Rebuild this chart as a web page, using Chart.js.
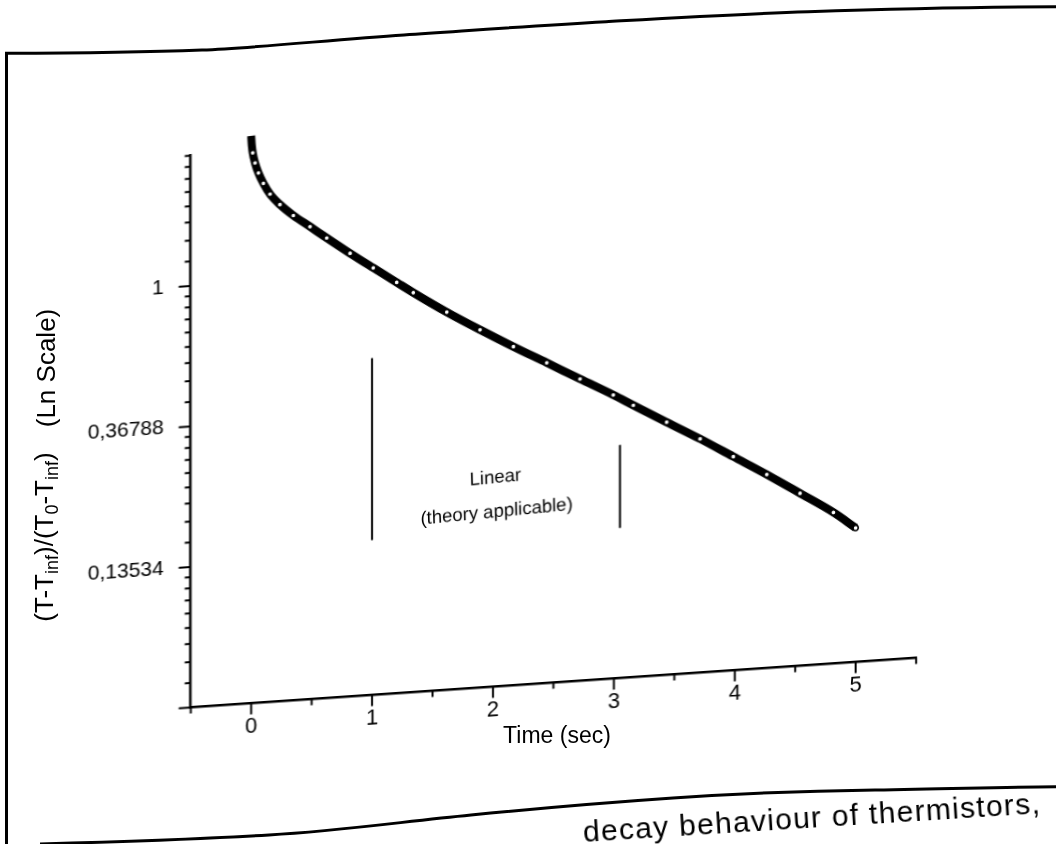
<!DOCTYPE html>
<html>
<head>
<meta charset="utf-8">
<script src="https://cdn.jsdelivr.net/npm/chart.js@4.4.1/dist/chart.umd.min.js"></script>
<style>
  html, body { margin:0; padding:0; background:#fff; width:1056px; height:844px; overflow:hidden; }
  body { position:relative; font-family:"Liberation Sans", Arial, sans-serif; color:#000; }
  /* the scanned page is slightly sheared: x axis rises to the right, y axis stays vertical */
  #plotWrap { position:absolute; left:0; top:0; width:1056px; height:844px;
              transform:skewY(-3.906deg); transform-origin:190.7px 0; }
  #frame { position:absolute; left:0; top:0; }
  .rot { position:absolute; white-space:nowrap; transform:translate(-50%,-50%) rotate(-90deg); font-size:26px; }
  .rot sub { font-size:18px; vertical-align:-5px; }
  #xTitle { position:absolute; left:557px; top:735px; transform:translate(-50%,-50%); font-size:23px; white-space:nowrap; }
  #caption { position:absolute; left:583px; top:815px; font-size:30px; letter-spacing:1.3px; white-space:nowrap;
             transform:rotate(-3.6deg); transform-origin:0 50%; }
</style>
</head>
<body>
<svg id="frame" width="1056" height="844">
  <path d="M6.5,844 L6.5,53.3 C100,53 150,52 202,50 S330,40 404,35 S530,26 606,21.7 S740,14 808,11.7 S980,7 1056,6.7"
        fill="none" stroke="#000" stroke-width="3"/>
  <path d="M40,844 C150,841 200,839 269,835 S400,822 471,815 S600,803 673,798 S800,791 875,790 S1000,787 1056,786.7"
        fill="none" stroke="#000" stroke-width="3"/>
</svg>
<div id="plotWrap"><canvas id="decayChart" width="1056" height="844"></canvas></div>
<div class="rot" style="left:46px; top:537px;">(T-T<sub>inf</sub>)/(T<sub>0</sub>-T<sub>inf</sub>)</div>
<div class="rot" style="left:46px; top:368px;">(Ln Scale)</div>
<div id="xTitle">Time (sec)</div>
<div id="caption">decay behaviour of thermistors,</div>

<script>
var timeSec = [0, 0.005, 0.013, 0.032, 0.06, 0.101, 0.156, 0.238, 0.349, 0.487,
               0.625, 0.818, 1.01, 1.204, 1.341, 1.618, 1.893, 2.169, 2.445, 2.72,
               2.995, 3.161, 3.437, 3.713, 3.988, 4.265, 4.54, 4.816, 5.0];
var tempRatio = [2.824, 2.648, 2.502, 2.326, 2.163, 2.004, 1.85, 1.709, 1.571, 1.439,
                 1.317, 1.168, 1.041, 0.928, 0.856, 0.733, 0.636, 0.555, 0.487, 0.427,
                 0.375, 0.345, 0.301, 0.263, 0.228, 0.1975, 0.170, 0.146, 0.1294];

// ln-scale axis: majors at e^0, e^-1, e^-2
var yMajors = [Math.exp(-3), Math.exp(-2), Math.exp(-1), 1, Math.E];
var yMajorLabels = ['', '0,13534', '0,36788', '1', ''];
var yMin = Math.exp(-3), yMax = Math.exp(0.932);
var xMajors = [0, 1, 2, 3, 4, 5];
var xMajorLabels = ['0', '1', '2', '3', '4', '5'];
var xMin = -0.5, xMax = 5.5;

// "Linear (theory applicable)" bracket
var bracketX = [1, 3.05];
var bracketTop = [0.548, 0.262];
var bracketBottom = [0.150, 0.145];
var noteText = ['Linear', '(theory applicable)'];
var noteX = [2.02, 2.03];
var noteY = [0.22, 0.1725];

Chart.defaults.font.family = '"Liberation Sans", Arial, sans-serif';
Chart.defaults.color = '#000';

function near(a, b) { return Math.abs(a - b) < 1e-6 * Math.max(1, Math.abs(b)); }

// Origin style minor ticks: 8 linearly spaced values between majors
function yTickValues() {
    var out = [];
    for (var i = 0; i < yMajors.length - 1; i++) {
        var lo = yMajors[i], hi = yMajors[i + 1];
        out.push({ value: lo, major: true });
        for (var k = 1; k < 9; k++) {
            var v = lo + k * (hi - lo) / 9;
            if (v <= yMax * 1.001) out.push({ value: v, major: false });
        }
    }
    return out;
}

function xTickValues() {
    var out = [];
    for (var v = xMin; v <= xMax + 1e-9; v += 0.5) {
        out.push({ value: v, major: Math.abs(v - Math.round(v)) < 1e-9 });
    }
    return out;
}

var tickPlugin = {
    id: 'originTicks',
    afterDraw: function (chart) {
        var ctx = chart.ctx, a = chart.chartArea, xs = chart.scales.x, ys = chart.scales.y;
        ctx.save();
        ctx.strokeStyle = '#000';
        ctx.lineWidth = 2;
        ys.ticks.forEach(function (t) {
            var y = ys.getPixelForValue(t.value);
            if (y < a.top - 1 || y > a.bottom + 1) return;
            var len = t.major ? 12 : 6;
            ctx.beginPath(); ctx.moveTo(a.left, y); ctx.lineTo(a.left - len, y); ctx.stroke();
        });
        xs.ticks.forEach(function (t) {
            var x = xs.getPixelForValue(t.value);
            var len = t.major ? 11 : 6;
            ctx.beginPath(); ctx.moveTo(x, a.bottom); ctx.lineTo(x, a.bottom + len); ctx.stroke();
        });
        ctx.restore();
    },
    afterDatasetsDraw: function (chart) {
        var ctx = chart.ctx, xs = chart.scales.x, ys = chart.scales.y;
        ctx.save();
        ctx.fillStyle = '#000';
        ctx.font = '18.5px "Liberation Sans", Arial, sans-serif';
        ctx.textAlign = 'center';
        ctx.textBaseline = 'middle';
        for (var i = 0; i < noteText.length; i++) {
            ctx.save();
            ctx.translate(xs.getPixelForValue(noteX[i]), ys.getPixelForValue(noteY[i]));
            ctx.rotate(-0.03);
            ctx.fillText(noteText[i], 0, 0);
            ctx.restore();
        }
        ctx.restore();
    }
};

var decayPoints = timeSec.map(function (t, i) { return { x: t, y: tempRatio[i] }; });

var datasets = [{
    data: decayPoints,
    borderColor: '#000',
    borderWidth: 8,
    cubicInterpolationMode: 'monotone',
    pointRadius: 2.6,
    pointBackgroundColor: '#fff',
    pointBorderColor: '#000',
    pointBorderWidth: 1.5,
    clip: false
}];
for (var b = 0; b < bracketX.length; b++) {
    datasets.push({
        data: [{ x: bracketX[b], y: bracketTop[b] }, { x: bracketX[b], y: bracketBottom[b] }],
        borderColor: '#000', borderWidth: 2, pointRadius: 0
    });
}

new Chart(document.getElementById('decayChart'), {
    type: 'scatter',
    data: { datasets: datasets },
    options: {
        responsive: false,
        animation: false,
        showLine: true,
        events: [],
        layout: { padding: { left: 0, right: 139.9, top: 155, bottom: 76.5 } },
        plugins: { legend: { display: false }, tooltip: { enabled: false } },
        scales: {
            x: {
                type: 'linear', min: xMin, max: xMax,
                grid: { display: false },
                border: { display: true, color: '#000', width: 2.5 },
                afterBuildTicks: function (s) { s.ticks = xTickValues(); },
                afterFit: function (s) { s.height = 60; },
                ticks: {
                    autoSkip: false, maxRotation: 0, padding: 2,
                    font: { size: 22 },
                    callback: function (v) {
                        for (var i = 0; i < xMajors.length; i++) if (near(v, xMajors[i])) return xMajorLabels[i];
                        return '';
                    }
                }
            },
            y: {
                type: 'logarithmic', min: yMin, max: yMax,
                grid: { display: false },
                border: { display: true, color: '#000', width: 2.5 },
                afterBuildTicks: function (s) { s.ticks = yTickValues(); },
                afterFit: function (s) { s.width = 190.7; },
                ticks: {
                    autoSkip: false, padding: 19,
                    font: { size: 21 },
                    callback: function (v) {
                        for (var i = 0; i < yMajors.length; i++) if (near(v, yMajors[i])) return yMajorLabels[i];
                        return '';
                    }
                }
            }
        }
    },
    plugins: [tickPlugin]
});
</script>
</body>
</html>
